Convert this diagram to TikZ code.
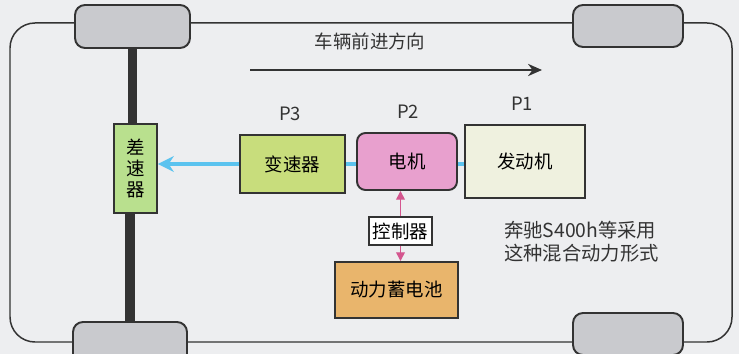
\documentclass[tikz,border=0pt]{standalone}
\usepackage{fontspec}
\setmainfont{Noto Sans CJK SC}
\usepackage{xcolor}
\usepackage{tikz}
\usetikzlibrary{arrows.meta}
\definecolor{paper}{HTML}{EDEEF0}
\definecolor{ink}{HTML}{333333}
\definecolor{tyre}{HTML}{C9CACE}
\definecolor{diffgreen}{HTML}{B9E08E}
\definecolor{gearyellow}{HTML}{C8DD7C}
\definecolor{motorpink}{HTML}{E8A0CE}
\definecolor{enginepale}{HTML}{EFF1DF}
\definecolor{battorange}{HTML}{E9B56C}
\definecolor{shaftblue}{HTML}{5BC3EF}
\definecolor{ctrlpink}{HTML}{D4568F}
\tikzset{
  body/.style={draw=ink, line width=0.85pt},
  wheel/.style={draw=ink, line width=1.1pt, fill=tyre, rounded corners=0.2cm},
  box/.style={draw=ink, line width=1.1pt, inner sep=0pt, font=\fontsize{10.5}{12}\selectfont},
  axle/.style={draw=ink, line width=5.5pt},
  shaft/.style={draw=shaftblue, line width=2pt},
  sig/.style={draw=ctrlpink, line width=0.8pt, -{Triangle[width=5pt,length=5pt]}},
  lbl/.style={text=ink, font=\fontsize{10.5}{12}\selectfont},
  plbl/.style={text=ink, font=\fontsize{10.5}{12}\selectfont}
}
\begin{document}
\begin{tikzpicture}[x=0.02cm, y=-0.02cm]
  \fill[paper] (0,0) rectangle (739,354);
  \useasboundingbox (0,0) rectangle (739,354);

  % car body
  \draw[body, rounded corners=0.5cm] (10,23) rectangle (732,342);

  % wheels
  \node[wheel, minimum width=2.3cm, minimum height=0.86cm] (wTL) at (132.5,26.5) {};
  \node[wheel, minimum width=2.2cm, minimum height=0.84cm] (wTR) at (628,26) {};
  \node[wheel, minimum width=2.28cm, minimum height=0.88cm] (wBL) at (130,344) {};
  \node[wheel, minimum width=2.2cm, minimum height=0.84cm] (wBR) at (628,334) {};

  % driveline
  \node[box, fill=diffgreen, minimum width=0.86cm, minimum height=1.78cm, align=center] (diff) at (135.5,168.5) {差\\速\\器};
  \node[box, fill=gearyellow, minimum width=2.1cm, minimum height=1.16cm] (gear) at (292.5,164) {变速器};
  \node[box, fill=motorpink, rounded corners=0.17cm, minimum width=2.0cm, minimum height=1.14cm] (motor) at (407,161.5) {电机};
  \node[box, fill=enginepale, minimum width=2.4cm, minimum height=1.46cm] (engine) at (525,161.5) {发动机};
  \node[box, fill=white, line width=0.9pt, minimum width=1.26cm, minimum height=0.56cm] (ctrl) at (400.5,231) {控制器};
  \node[box, fill=battorange, minimum width=2.46cm, minimum height=1.12cm] (batt) at (396.5,290) {动力蓄电池};

  \draw[axle] (wTL.south) -- (wTL.south |- diff.north);
  \draw[axle] (wBL.north) -- (wBL.north |- diff.south);

  \draw[shaft, -{Stealth[length=9pt,width=9pt]}] (gear.west) -- (gear.west -| diff.east);
  \draw[shaft] (gear.east) -- (gear.east -| motor.west);
  \draw[shaft] (motor.east |- gear.east) -- (gear.east -| engine.west);

  \draw[sig] (ctrl.north) -- (ctrl.north |- motor.south);
  \draw[sig] (ctrl.south) -- (ctrl.south |- batt.north);

  % labels
  \node[plbl] (p3) at (290,114) {P3};
  \node[plbl] (p2) at (408,112) {P2};
  \node[plbl] (p1) at (522,104) {P1};

  \node[lbl] (dir) at (370,41) {车辆前进方向};
  \coordinate (dirA) at (250,70);
  \coordinate (dirB) at (542,70);
  \draw[body, -{Stealth[length=8pt,width=7pt]}] (dirA) -- (dirB);

  \node[lbl, anchor=west, align=left, font=\fontsize{11}{13}\selectfont] (note) at (498,242) {奔驰S400h等采用\\这种混合动力形式};
\end{tikzpicture}
\end{document}
